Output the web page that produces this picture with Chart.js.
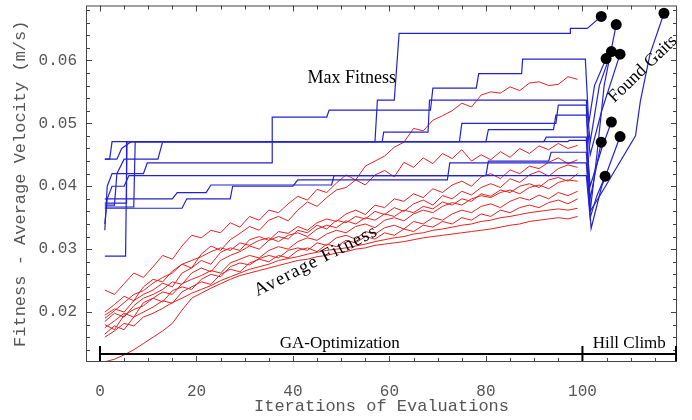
<!DOCTYPE html>
<html>
<head>
<meta charset="utf-8">
<script src="https://cdn.jsdelivr.net/npm/chart.js@4.4.1/dist/chart.umd.min.js"></script>
<style>
  html, body { margin: 0; padding: 0; background: #fff; }
  #wrap { width: 692px; height: 420px; }
</style>
</head>
<body>
<div id="wrap"><canvas id="gaitChart" width="692" height="420"></canvas></div>
<script>
// axis ticks
const iterTicks = [0, 20, 40, 60, 80, 100]
const fitnessTicks = [0.02, 0.03, 0.04, 0.05, 0.06]

// iterations where the average fitness was sampled
const redX = [1, 3, 5, 7, 9, 11, 13, 15, 17, 19, 21, 23, 25, 27, 29, 31, 33, 35, 37, 39,
    41, 43, 45, 47, 49, 51, 53, 55, 57, 59, 61, 63, 65, 67, 69, 71, 73, 75, 77, 79,
    81, 83, 85, 87, 89, 91, 93, 95, 97, 99]

// average fitness of each GA run
const avgRun1 = [0.0235, 0.0228, 0.0245, 0.0262, 0.0255, 0.0272, 0.0290, 0.0284, 0.0305, 0.0322,
    0.0318, 0.0330, 0.0326, 0.0342, 0.0335, 0.0352, 0.0346, 0.0362, 0.0358, 0.0372,
    0.0384, 0.0378, 0.0395, 0.0390, 0.0405, 0.0418, 0.0410, 0.0432, 0.0440, 0.0448,
    0.0462, 0.0470, 0.0492, 0.0488, 0.0505, 0.0512, 0.0520, 0.0532, 0.0526, 0.0545,
    0.0550, 0.0548, 0.0558, 0.0552, 0.0564, 0.0566, 0.0560, 0.0562, 0.0574, 0.0570]
const avgRun2 = [0.0200, 0.0212, 0.0225, 0.0218, 0.0240, 0.0252, 0.0248, 0.0265, 0.0276, 0.0270,
    0.0292, 0.0305, 0.0298, 0.0315, 0.0325, 0.0336, 0.0330, 0.0346, 0.0352, 0.0345,
    0.0362, 0.0375, 0.0368, 0.0382, 0.0394, 0.0398, 0.0410, 0.0402, 0.0418, 0.0425,
    0.0415, 0.0438, 0.0430, 0.0445, 0.0436, 0.0452, 0.0444, 0.0458, 0.0440, 0.0450,
    0.0442, 0.0455, 0.0446, 0.0460, 0.0452, 0.0464, 0.0458, 0.0468, 0.0460, 0.0465]
const avgRun3 = [0.0195, 0.0205, 0.0200, 0.0218, 0.0228, 0.0235, 0.0246, 0.0240, 0.0262, 0.0270,
    0.0282, 0.0276, 0.0295, 0.0302, 0.0298, 0.0315, 0.0320, 0.0314, 0.0328, 0.0325,
    0.0336, 0.0330, 0.0342, 0.0348, 0.0344, 0.0356, 0.0362, 0.0355, 0.0370, 0.0366,
    0.0380, 0.0376, 0.0388, 0.0382, 0.0396, 0.0390, 0.0402, 0.0408, 0.0400, 0.0415,
    0.0420, 0.0412, 0.0426, 0.0420, 0.0432, 0.0428, 0.0438, 0.0445, 0.0436, 0.0442]
const avgRun4 = [0.0185, 0.0198, 0.0192, 0.0210, 0.0222, 0.0228, 0.0236, 0.0248, 0.0244, 0.0262,
    0.0270, 0.0264, 0.0282, 0.0290, 0.0296, 0.0305, 0.0300, 0.0314, 0.0320, 0.0316,
    0.0330, 0.0326, 0.0338, 0.0332, 0.0346, 0.0342, 0.0352, 0.0348, 0.0360, 0.0355,
    0.0366, 0.0360, 0.0372, 0.0378, 0.0370, 0.0385, 0.0380, 0.0392, 0.0386, 0.0398,
    0.0404, 0.0398, 0.0412, 0.0406, 0.0418, 0.0424, 0.0416, 0.0428, 0.0434, 0.0430]
const avgRun5 = [0.0190, 0.0202, 0.0215, 0.0228, 0.0234, 0.0246, 0.0255, 0.0262, 0.0276, 0.0282,
    0.0288, 0.0296, 0.0302, 0.0298, 0.0310, 0.0306, 0.0314, 0.0318, 0.0312, 0.0322,
    0.0326, 0.0320, 0.0332, 0.0338, 0.0334, 0.0345, 0.0340, 0.0350, 0.0346, 0.0356,
    0.0352, 0.0362, 0.0358, 0.0368, 0.0364, 0.0375, 0.0370, 0.0380, 0.0376, 0.0388,
    0.0384, 0.0394, 0.0390, 0.0400, 0.0404, 0.0398, 0.0410, 0.0414, 0.0408, 0.0420]
const avgRun6 = [0.0175, 0.0186, 0.0198, 0.0192, 0.0215, 0.0222, 0.0232, 0.0228, 0.0245, 0.0252,
    0.0258, 0.0266, 0.0262, 0.0278, 0.0284, 0.0290, 0.0286, 0.0298, 0.0304, 0.0300,
    0.0312, 0.0318, 0.0314, 0.0324, 0.0330, 0.0326, 0.0336, 0.0340, 0.0334, 0.0346,
    0.0350, 0.0345, 0.0356, 0.0362, 0.0358, 0.0368, 0.0374, 0.0370, 0.0380, 0.0385,
    0.0382, 0.0390, 0.0394, 0.0388, 0.0398, 0.0402, 0.0396, 0.0406, 0.0410, 0.0408]
const avgRun7 = [0.0180, 0.0172, 0.0195, 0.0204, 0.0210, 0.0222, 0.0216, 0.0234, 0.0240, 0.0236,
    0.0252, 0.0260, 0.0256, 0.0272, 0.0278, 0.0275, 0.0285, 0.0290, 0.0286, 0.0298,
    0.0302, 0.0298, 0.0310, 0.0306, 0.0318, 0.0322, 0.0316, 0.0328, 0.0324, 0.0334,
    0.0338, 0.0332, 0.0344, 0.0340, 0.0350, 0.0346, 0.0356, 0.0362, 0.0358, 0.0368,
    0.0372, 0.0366, 0.0376, 0.0382, 0.0378, 0.0386, 0.0380, 0.0390, 0.0385, 0.0392]
const avgRun8 = [0.0165, 0.0178, 0.0172, 0.0192, 0.0200, 0.0208, 0.0218, 0.0214, 0.0232, 0.0240,
    0.0248, 0.0244, 0.0260, 0.0268, 0.0264, 0.0278, 0.0284, 0.0280, 0.0290, 0.0286,
    0.0298, 0.0302, 0.0296, 0.0308, 0.0304, 0.0314, 0.0310, 0.0320, 0.0316, 0.0326,
    0.0322, 0.0332, 0.0328, 0.0338, 0.0335, 0.0344, 0.0340, 0.0350, 0.0346, 0.0356,
    0.0352, 0.0362, 0.0358, 0.0366, 0.0370, 0.0366, 0.0374, 0.0378, 0.0372, 0.0380]
const avgRun9 = [0.0160, 0.0170, 0.0182, 0.0178, 0.0192, 0.0198, 0.0206, 0.0215, 0.0222, 0.0230,
    0.0236, 0.0242, 0.0250, 0.0256, 0.0262, 0.0268, 0.0272, 0.0276, 0.0282, 0.0285,
    0.0288, 0.0292, 0.0295, 0.0298, 0.0300, 0.0302, 0.0305, 0.0308, 0.0312, 0.0315,
    0.0318, 0.0320, 0.0324, 0.0326, 0.0330, 0.0332, 0.0335, 0.0338, 0.0340, 0.0344,
    0.0346, 0.0350, 0.0352, 0.0355, 0.0358, 0.0360, 0.0362, 0.0364, 0.0362, 0.0365]
const avgRun10 = [0.0121, 0.0125, 0.0132, 0.0140, 0.0150, 0.0160, 0.0170, 0.0182, 0.0203, 0.0222,
    0.0230, 0.0238, 0.0245, 0.0252, 0.0258, 0.0262, 0.0266, 0.0270, 0.0274, 0.0278,
    0.0282, 0.0284, 0.0288, 0.0290, 0.0294, 0.0296, 0.0300, 0.0302, 0.0306, 0.0308,
    0.0310, 0.0312, 0.0315, 0.0318, 0.0320, 0.0322, 0.0324, 0.0326, 0.0328, 0.0330,
    0.0332, 0.0335, 0.0338, 0.0340, 0.0344, 0.0346, 0.0348, 0.0350, 0.0348, 0.0352]

// max fitness of each run, [iteration, fitness] at every change, then the hill climb
const maxRun1 = [[1, 0.0373], [5.5, 0.0373], [5.5, 0.0471], [57, 0.0471], [57.5, 0.0537], [61, 0.0537],
    [62, 0.0643], [97.5, 0.0643], [97.5, 0.0651], [101, 0.0651], [103.9, 0.0670]]
const maxRun2 = [[1, 0.0330], [1.5, 0.0400], [2.5, 0.0420], [9, 0.0420], [9.8, 0.0437], [35.7, 0.0437],
    [35.7, 0.0510], [47, 0.0510], [47.5, 0.0521], [68.5, 0.0521], [69, 0.0556], [78, 0.0556],
    [78.5, 0.0579], [87.4, 0.0579], [87.6, 0.0602], [100.6, 0.0602], [101.3, 0.0500], [102.5, 0.0560],
    [104.9, 0.0603]]
const maxRun3 = [[1, 0.0443], [3.5, 0.0443], [4.5, 0.0460], [6.5, 0.0471], [58.5, 0.0471], [58.8, 0.0486],
    [68, 0.0486], [68.3, 0.0537], [100.8, 0.0537], [101.6, 0.0470], [103.5, 0.0560], [106, 0.0614]]
const maxRun4 = [[1, 0.0367], [7, 0.0367], [7.3, 0.0471], [74.5, 0.0471], [75, 0.0500], [94.5, 0.0500],
    [95, 0.0529], [100.8, 0.0529], [101.6, 0.0360], [103, 0.0450], [104.5, 0.0560], [107, 0.0657]]
const maxRun5 = [[1, 0.0370], [3, 0.0370], [3.5, 0.0420], [5, 0.0443], [12, 0.0443], [13, 0.0471],
    [80, 0.0471], [80.5, 0.0490], [94, 0.0490], [94.5, 0.0513], [100.8, 0.0513], [101.6, 0.0450],
    [104, 0.0520], [107.8, 0.0610]]
const maxRun6 = [[1, 0.0289], [5.3, 0.0289], [5.6, 0.0471], [92, 0.0471], [92.5, 0.0478], [100.8, 0.0478],
    [101.6, 0.0400], [104, 0.0460], [106, 0.0502]]
const maxRun7 = [[1, 0.0443], [2, 0.0443], [2.5, 0.0471], [97, 0.0471], [97.3, 0.0473], [100.8, 0.0473],
    [101.6, 0.0380], [103.9, 0.0470]]
const maxRun8 = [[1, 0.0380], [15, 0.0380], [16, 0.0390], [22, 0.0390], [23, 0.0402], [48, 0.0402],
    [48.5, 0.0417], [80, 0.0417], [80.5, 0.0440], [93, 0.0440], [93.5, 0.0454], [100.8, 0.0454],
    [101.6, 0.0360], [104, 0.0390], [111, 0.0480], [112, 0.0535], [114, 0.0610], [116.9, 0.0675]]
const maxRun9 = [[1, 0.0365], [17, 0.0365], [18, 0.0380], [27, 0.0380], [27.5, 0.0400], [40, 0.0400],
    [41, 0.0410], [72, 0.0410], [72.5, 0.0437], [100.8, 0.0437], [101.8, 0.0333], [104, 0.0400],
    [107.8, 0.0479]]
const maxRun10 = [[1, 0.0340], [1.5, 0.0380], [2.5, 0.0400], [5, 0.0400], [6, 0.0417], [100.8, 0.0417],
    [101.6, 0.0350], [103, 0.0385], [104.7, 0.0416]]

// found gaits at the end of the hill climb
const gaitX = [103.9, 107.0, 104.9, 106.0, 107.8, 116.9, 106.0, 103.9, 107.8, 104.7]
const gaitY = [0.0670, 0.0657, 0.0603, 0.0614, 0.0610, 0.0675, 0.0502, 0.0470, 0.0479, 0.0416]

const avgRuns = [avgRun1, avgRun2, avgRun3, avgRun4, avgRun5, avgRun6, avgRun7, avgRun8, avgRun9, avgRun10]
const maxRuns = [maxRun1, maxRun2, maxRun3, maxRun4, maxRun5, maxRun6, maxRun7, maxRun8, maxRun9, maxRun10]

const blue = 'rgb(35,35,205)'
const red = 'rgb(225,35,35)'
const monoFont = 'Liberation Mono'
const serifFont = 'Liberation Serif'

const datasets = []
datasets.push({
    data: gaitX.map((x, i) => ({ x: x, y: gaitY[i] })),
    showLine: false,
    pointRadius: 5.5,
    backgroundColor: '#000',
    borderWidth: 0
})
maxRuns.forEach(run => {
    datasets.push({
        data: run.map(p => ({ x: p[0], y: p[1] })),
        showLine: true,
        borderColor: blue,
        borderWidth: 1.2,
        pointRadius: 0,
        tension: 0
    })
})
avgRuns.forEach(run => {
    datasets.push({
        data: run.map((v, i) => ({ x: redX[i], y: v })),
        showLine: true,
        borderColor: red,
        borderWidth: 1,
        pointRadius: 0,
        tension: 0
    })
})

// labels drawn on the plot, anchored in data units
const notes = [
    { text: 'Max Fitness', x: 52.2, y: 0.0571, angle: 0, size: 18 },
    { text: 'Average Fitness', x: 44.8, y: 0.0281, angle: -27, size: 18.5, spacing: 1.2 },
    { text: 'Found Gaits', x: 112.5, y: 0.0586, angle: -44, size: 18 },
    { text: 'GA-Optimization', x: 49.7, y: 0.01495, angle: 0, size: 17 },
    { text: 'Hill Climb', x: 109.7, y: 0.01495, angle: 0, size: 17 }
]
const phaseEdges = [0, 100, 119.4]
const phaseLevel = 0.01333

const framePlugin = {
    id: 'framePlugin',
    afterDatasetsDraw(chart) {
        const ctx = chart.ctx
        const xs = chart.scales.x
        const ys = chart.scales.y
        const a = chart.chartArea
        ctx.save()
        // frame
        ctx.strokeStyle = '#444'
        ctx.lineWidth = 1
        ctx.strokeRect(a.left + 0.5, a.top + 0.5, a.right - a.left - 1, a.bottom - a.top - 1)
        // inward ticks on all four sides
        ctx.beginPath()
        for (let v = 0; v <= 115; v += 5) {
            const px = Math.round(xs.getPixelForValue(v)) + 0.5
            const len = v % 20 === 0 ? 6 : 4
            ctx.moveTo(px, a.bottom); ctx.lineTo(px, a.bottom - len)
            ctx.moveTo(px, a.top); ctx.lineTo(px, a.top + len)
        }
        for (let k = 7; k <= 34; k++) {
            const v = k * 0.002
            const py = Math.round(ys.getPixelForValue(v)) + 0.5
            const len = k % 5 === 0 ? 6 : 4
            ctx.moveTo(a.left, py); ctx.lineTo(a.left + len, py)
            ctx.moveTo(a.right, py); ctx.lineTo(a.right - len, py)
        }
        ctx.stroke()
        // GA / hill climb brackets
        ctx.strokeStyle = '#000'
        ctx.lineWidth = 2
        const yb = ys.getPixelForValue(phaseLevel)
        ctx.beginPath()
        ctx.moveTo(xs.getPixelForValue(phaseEdges[0]), yb)
        ctx.lineTo(xs.getPixelForValue(phaseEdges[2]), yb)
        phaseEdges.forEach(e => {
            const px = xs.getPixelForValue(e)
            ctx.moveTo(px, yb - 8); ctx.lineTo(px, yb + 7)
        })
        ctx.stroke()
        // text notes
        ctx.fillStyle = '#000'
        ctx.textAlign = 'center'
        ctx.textBaseline = 'middle'
        notes.forEach(n => {
            ctx.save()
            ctx.translate(xs.getPixelForValue(n.x), ys.getPixelForValue(n.y))
            ctx.rotate(n.angle * Math.PI / 180)
            ctx.font = n.size + 'px "' + serifFont + '"'
            if (n.spacing) ctx.letterSpacing = n.spacing + 'px'
            ctx.fillText(n.text, 0, 0)
            ctx.restore()
        })
        ctx.restore()
    }
}

new Chart('gaitChart', {
    type: 'scatter',
    data: { datasets: datasets },
    options: {
        responsive: false,
        animation: false,
        layout: { padding: { top: 5, right: 15, left: 0, bottom: 0 } },
        plugins: { legend: { display: false }, tooltip: { enabled: false } },
        scales: {
            x: {
                type: 'linear',
                min: -2.9,
                max: 119.6,
                afterFit: s => { s.height = 58; s.paddingLeft = 0; s.paddingRight = 0 },
                afterBuildTicks: s => { s.ticks = iterTicks.map(v => ({ value: v })) },
                grid: { display: false, drawTicks: false },
                border: { display: false },
                ticks: { color: '#555', padding: 20, maxRotation: 0, font: { family: monoFont, size: 16 } },
                title: {
                    display: true,
                    text: 'Iterations of Evaluations',
                    color: '#555',
                    font: { family: monoFont, size: 17 },
                    padding: { top: 0, bottom: 3 }
                }
            },
            y: {
                min: 0.01206,
                max: 0.06873,
                afterFit: s => { s.width = 86; s.paddingTop = 0; s.paddingBottom = 0 },
                afterBuildTicks: s => { s.ticks = fitnessTicks.map(v => ({ value: v })) },
                grid: { display: false, drawTicks: false },
                border: { display: false },
                ticks: {
                    color: '#555',
                    padding: 9,
                    font: { family: monoFont, size: 16 },
                    callback: v => v.toFixed(2)
                },
                title: {
                    display: true,
                    text: 'Fitness - Average Velocity (m/s)',
                    color: '#555',
                    font: { family: monoFont, size: 17 },
                    padding: { top: 10, bottom: 0 }
                }
            }
        }
    },
    plugins: [framePlugin]
});
</script>
</body>
</html>
